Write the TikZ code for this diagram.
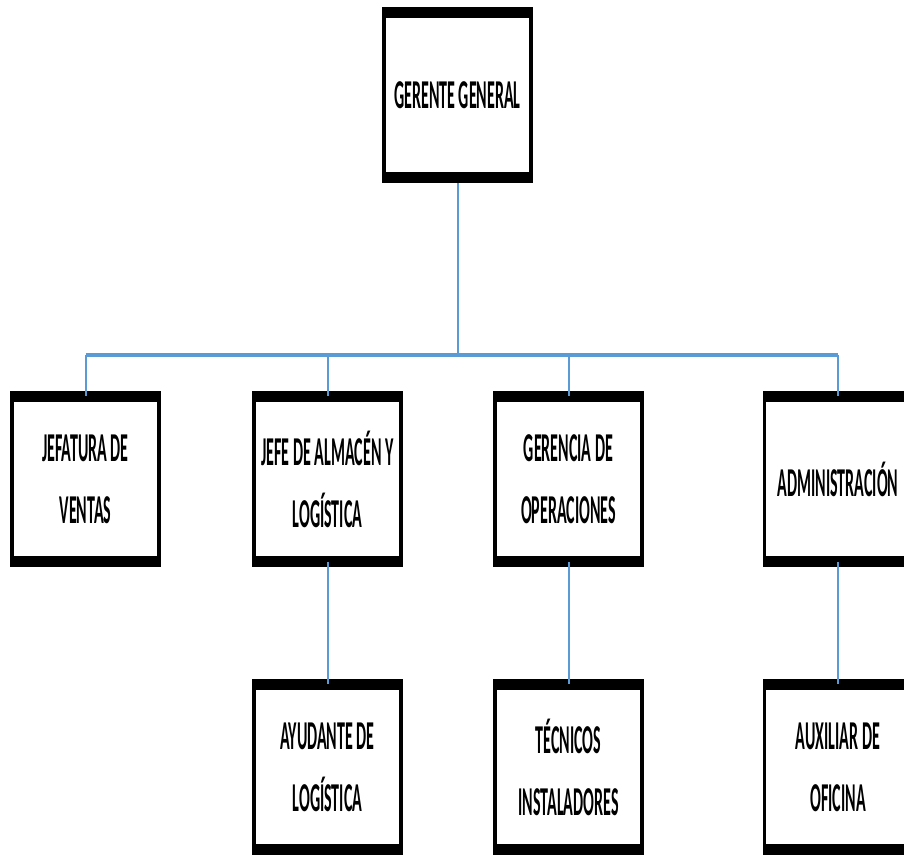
\documentclass[tikz,border=0pt]{standalone}
\usepackage{fontspec}
\newfontfamily\cargofont[FakeStretch=0.39]{Carlito}
\usetikzlibrary{calc}

\begin{document}
\begin{tikzpicture}[x=1pt, y=-1pt,
    cargo/.style={draw=black, line width=3.5pt, fill=white, align=center,
        minimum width=147pt, minimum height=172pt, inner sep=0pt,
        font=\cargofont\bfseries\fontsize{41}{62}\selectfont},
    linea/.style={draw={rgb,255:red,91;green,155;blue,213}, line width=2pt}
]
\useasboundingbox (0,0) rectangle (904,854);

% primer nivel
\node[cargo] (gg) at (457.5,95) {GERENTE GENERAL};

% segundo nivel
\node[cargo] (jv) at (85.5,479) {JEFATURA DE\\VENTAS};
\node[cargo] (ja) at (327.5,479) {JEFE DE ALMAC\'EN Y\\LOG\'ISTICA};
\node[cargo] (go) at (568.5,479) {GERENCIA DE\\OPERACIONES};
\node[cargo] (ad) at (838,479) {ADMINISTRACI\'ON};

% tercer nivel
\node[cargo] (al) at (327.5,767) {AYUDANTE DE\\LOG\'ISTICA};
\node[cargo] (ti) at (568.5,767) {T\'ECNICOS\\INSTALADORES};
\node[cargo] (ao) at (838,767) {AUXILIAR DE\\OFICINA};

% bordes gruesos arriba y abajo
\foreach \n in {gg,jv,ja,go,ad,al,ti,ao}{
    \fill[black] (\n.north west) rectangle ([yshift=-11pt]\n.north east);
    \fill[black] (\n.south west) rectangle ([yshift=11pt]\n.south east);
}

% conectores
\coordinate (barra) at (457.5,355);
\draw[linea] (gg.south) -- (gg.south |- barra);
\draw[linea, line width=4pt] (jv.north |- barra) -- (ad.north |- barra);
\foreach \n in {jv,ja,go,ad}{
    \draw[linea] (\n.north |- barra) -- ([yshift=-5pt]\n.north);
}
\draw[linea] ([yshift=5pt]ja.south) -- ([yshift=-5pt]al.north);
\draw[linea] ([yshift=5pt]go.south) -- ([yshift=-5pt]ti.north);
\draw[linea] ([yshift=5pt]ad.south) -- ([yshift=-5pt]ao.north);
\end{tikzpicture}
\end{document}
